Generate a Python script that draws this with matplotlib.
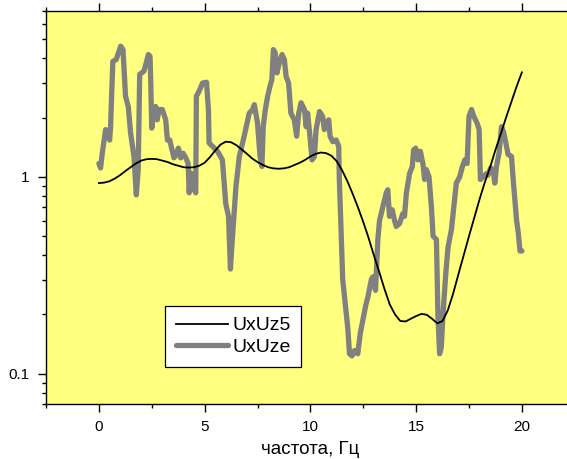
import matplotlib
matplotlib.use("Agg")
import matplotlib.pyplot as plt
from matplotlib.ticker import LogLocator, NullFormatter, FixedLocator

plt.rcParams['font.family'] = ['Liberation Sans', 'DejaVu Sans']

# UxUz5 (smooth, black)
x5 = [0.0, 0.25, 0.5, 0.75, 1.0, 1.25, 1.5, 1.75, 2.0, 2.25, 2.5, 2.75, 3.0, 3.25,
      3.5, 3.75, 4.0, 4.25, 4.5, 4.75, 5.0, 5.25, 5.5, 5.75, 6.0, 6.25, 6.5, 6.75,
      7.0, 7.25, 7.5, 7.75, 8.0, 8.25, 8.5, 8.75, 9.0, 9.25, 9.5, 9.75, 10.0, 10.25,
      10.5, 10.75, 11.0, 11.25, 11.5, 11.75, 12.0, 12.25, 12.5, 12.75, 13.0, 13.25,
      13.5, 13.75, 14.0, 14.25, 14.5, 14.75, 15.0, 15.25, 15.5, 15.75, 16.0, 16.25,
      16.5, 16.75, 17.0, 17.25, 17.5, 17.75, 18.0, 18.25, 18.5, 18.75, 19.0, 19.25,
      19.5, 19.75, 20.0]
y5 = [0.93, 0.935, 0.95, 0.98, 1.02, 1.07, 1.12, 1.17, 1.21, 1.23, 1.235, 1.23,
      1.21, 1.19, 1.16, 1.14, 1.12, 1.115, 1.12, 1.14, 1.18, 1.26, 1.36, 1.46, 1.51,
      1.50, 1.45, 1.38, 1.31, 1.24, 1.19, 1.15, 1.12, 1.105, 1.10, 1.105, 1.12, 1.15,
      1.18, 1.22, 1.27, 1.31, 1.33, 1.32, 1.28, 1.20, 1.08, 0.95, 0.82, 0.70, 0.59,
      0.49, 0.40, 0.33, 0.27, 0.225, 0.20, 0.185, 0.184, 0.19, 0.196, 0.201, 0.199,
      0.19, 0.18, 0.185, 0.21, 0.255, 0.32, 0.40, 0.50, 0.62, 0.77, 0.94, 1.12, 1.37,
      1.65, 2.0, 2.4, 2.88, 3.40]

# UxUze (jagged, gray)
xe = [0.0, 0.08, 0.16, 0.32, 0.51, 0.55, 0.66, 0.82, 1.03, 1.14, 1.26, 1.39, 1.50,
      1.66, 1.77, 1.86, 1.93, 2.13, 2.24, 2.34, 2.42, 2.45, 2.50, 2.60, 2.69, 2.76,
      2.84, 3.00, 3.16, 3.24, 3.35, 3.44, 3.55, 3.66, 3.76, 3.87, 3.98, 4.11, 4.22,
      4.27, 4.34, 4.42, 4.50, 4.58, 4.61, 4.74, 4.90, 5.09, 5.18, 5.21, 5.37, 5.61,
      5.84, 6.00, 6.13, 6.22, 6.32, 6.48, 6.64, 6.87, 7.11, 7.27, 7.35, 7.50, 7.62,
      7.71, 7.77, 7.87, 7.98, 8.09, 8.18, 8.25, 8.34, 8.42, 8.53, 8.66, 8.77, 8.85,
      8.97, 9.08, 9.24, 9.35, 9.45, 9.56, 9.72, 9.80, 9.87, 9.98, 10.08, 10.19,
      10.27, 10.43, 10.58, 10.66, 10.77, 10.87, 10.93, 11.06, 11.22, 11.34, 11.37,
      11.45, 11.53, 11.66, 11.77, 11.85, 11.97, 12.09, 12.24, 12.36, 12.48, 12.61,
      12.72, 12.88, 12.95, 13.08, 13.19, 13.27, 13.35, 13.46, 13.59, 13.66, 13.74,
      13.87, 13.98, 14.06, 14.22, 14.37, 14.45, 14.54, 14.69, 14.82, 14.88, 14.98,
      15.09, 15.20, 15.32, 15.40, 15.48, 15.61, 15.72, 15.80, 15.96, 16.03, 16.11,
      16.19, 16.27, 16.40, 16.51, 16.67, 16.75, 16.82, 16.90, 17.06, 17.19, 17.30,
      17.41, 17.50, 17.62, 17.73, 17.88, 17.98, 18.04, 18.17, 18.33, 18.40, 18.52,
      18.64, 18.72, 18.80, 18.92, 19.04, 19.15, 19.24, 19.35, 19.51, 19.59, 19.67,
      19.75, 19.83, 19.91, 20.0]
ye = [1.17, 1.11, 1.32, 1.74, 1.54, 1.77, 3.87, 3.95, 4.62, 4.44, 2.57, 2.28, 1.67,
      1.27, 0.81, 1.09, 3.32, 3.45, 3.80, 4.19, 4.10, 3.13, 1.77, 2.20, 2.28, 1.95,
      2.20, 2.20, 1.95, 1.54, 1.54, 1.40, 1.25, 1.30, 1.40, 1.25, 1.32, 1.25, 1.17,
      0.83, 1.05, 0.86, 0.92, 0.83, 2.57, 2.73, 3.00, 3.03, 2.20, 1.49, 1.43, 1.35,
      1.22, 0.73, 0.63, 0.34, 0.50, 0.89, 1.27, 1.61, 2.11, 2.20, 2.33, 1.88, 1.27,
      1.13, 1.80, 2.20, 2.57, 2.89, 3.13, 4.44, 4.27, 3.38, 3.80, 4.19, 3.95, 3.25,
      3.00, 2.11, 1.95, 1.61, 2.11, 2.38, 2.20, 1.80, 2.11, 1.61, 1.22, 1.27, 1.74,
      2.15, 2.03, 1.74, 1.88, 1.95, 1.61, 1.51, 1.54, 1.43, 0.97, 0.54, 0.30, 0.22,
      0.17, 0.126, 0.123, 0.131, 0.126, 0.16, 0.186, 0.22, 0.245, 0.30, 0.31, 0.265,
      0.48, 0.60, 0.65, 0.73, 0.83, 0.86, 0.63, 0.68, 0.60, 0.56, 0.58, 0.65, 0.63,
      0.83, 1.04, 1.13, 1.37, 1.40, 1.22, 1.35, 1.17, 0.97, 1.09, 1.00, 0.71, 0.50,
      0.48, 0.20, 0.126, 0.136, 0.20, 0.32, 0.44, 0.54, 0.65, 0.76, 0.93, 1.00, 1.13,
      1.22, 1.17, 2.03, 2.20, 2.03, 1.88, 1.74, 0.97, 1.00, 1.04, 1.02, 1.11, 1.09,
      0.93, 1.13, 1.32, 1.80, 1.67, 1.49, 1.30, 1.27, 0.97, 0.76, 0.60, 0.52, 0.42,
      0.42]

x_ticks = [0, 5, 10, 15, 20]
x_label = "частота, Гц"

W, H = 567, 459
fig = plt.figure(figsize=(W / 100, H / 100), dpi=100)
fig.patch.set_facecolor('white')
left, right, top, bottom = 46, 574.75, 10.7, 404
ax = fig.add_axes([left / W, (H - bottom) / H, (right - left) / W, (bottom - top) / H])
ax.set_facecolor('#FFFF80')

ax.plot(x5, y5, color='black', lw=1.3, label='UxUz5', zorder=3)
ax.plot(xe, ye, color='#808080', lw=3.8, label='UxUze', zorder=2,
        solid_joinstyle='round', solid_capstyle='round')

ax.set_yscale('log')
ax.set_xlim(-2.5, 22.5)
ax.set_ylim(0.07, 7)
ax.xaxis.set_major_locator(FixedLocator(x_ticks))
ax.xaxis.set_minor_locator(FixedLocator([-2.5, 2.5, 7.5, 12.5, 17.5, 22.5]))
ax.yaxis.set_major_locator(FixedLocator([0.1, 1]))
ax.set_yticklabels(['0.1', '1'])
ax.yaxis.set_minor_locator(LogLocator(base=10, subs=range(2, 10)))
ax.yaxis.set_minor_formatter(NullFormatter())

ax.tick_params(which='both', direction='out', top=True, right=False,
               labelsize=11, width=1.0, color='black', pad=6)
ax.tick_params(which='major', length=5.8)
ax.tick_params(which='minor', length=3.2)
for s in ax.spines.values():
    s.set_linewidth(1.0)

ax.set_xlabel(x_label, fontsize=13.5, labelpad=5)

leg = ax.legend(loc='upper left', bbox_to_anchor=(0.225, 0.249), borderaxespad=0,
                fancybox=False, framealpha=1, edgecolor='black', fontsize=14,
                handlelength=2.7, handletextpad=0.2, borderpad=0.55, labelspacing=0.2)
leg.get_frame().set_linewidth(0.9)

fig.savefig('out.png', dpi=100)
